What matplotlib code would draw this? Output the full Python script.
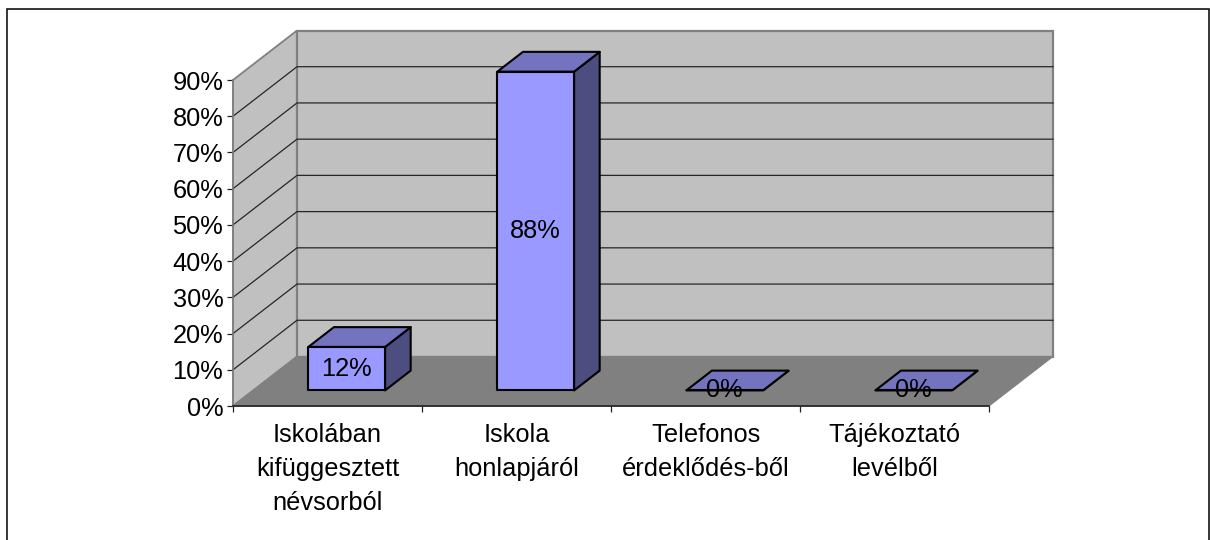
import matplotlib
matplotlib.use("Agg")
import matplotlib.pyplot as plt
from matplotlib.patches import Polygon, Rectangle
from matplotlib.transforms import Affine2D

categories = ["Iskolában\nkifüggesztett\nnévsorból", "Iskola\nhonlapjáról",
              "Telefonos\nérdeklődés-ből", "Tájékoztató\nlevélből"]
values = [12, 88, 0, 0]
value_labels = ["12%", "88%", "0%", "0%"]
y_ticks = [0, 10, 20, 30, 40, 50, 60, 70, 80, 90]
y_tick_labels = ["0%", "10%", "20%", "30%", "40%", "50%", "60%", "70%", "80%", "90%"]

W, H = 1210, 540
DX, DY = 64, 49.5
BAR_W = 0.406
BAR_SHIFT = -0.005
D0, D1 = 0.315, 0.715
FS = 18.3

plt.rcParams["font.family"] = ["Liberation Sans", "DejaVu Sans"]
fig = plt.figure(figsize=(W / 100, H / 100), dpi=100, facecolor="white")
fig.add_artist(Rectangle((6.5 / W, -0.05), 1202 / W, 1.05 - 8.5 / H, transform=fig.transFigure,
                         fill=False, ec="black", lw=1.1))
ax = fig.add_axes([233 / W, 1 - 406 / H, 756 / W, 326 / H])
ax.set_xlim(0, len(categories))
ax.set_ylim(0, max(y_ticks))
ax.patch.set_visible(False)
for s in ax.spines.values():
    s.set_visible(False)
ax.spines["left"].set_visible(True)
ax.spines["left"].set_color("#808080")
ax.spines["left"].set_linewidth(1.2)
ax.spines["left"].set_zorder(2)


def depth(d):
    return ax.transData + Affine2D().translate(DX * d, DY * d)


n = len(categories)
top = max(y_ticks)


def quad(points, **kw):
    verts = [depth(d).transform((x, y)) for x, y, d in points]
    ax.add_patch(Polygon(verts, closed=True, transform=None, clip_on=False, **kw))


quad([(0, 0, 0), (0, top, 0), (0, top, 1), (0, 0, 1)], fc="#C0C0C0", ec="#808080", lw=1.3, zorder=1)
quad([(0, 0, 1), (0, top, 1), (n, top, 1), (n, 0, 1)], fc="#C0C0C0", ec="#808080", lw=1.6, zorder=1)
quad([(0, 0, 0), (0, 0, 1), (n, 0, 1), (n, 0, 0)], fc="#808080", ec="#808080", lw=0.8, zorder=1.5)

for t in y_ticks[1:-1]:
    p0 = depth(0).transform((0, t))
    p1 = depth(1).transform((0, t))
    p2 = depth(1).transform((n, t))
    ax.plot([p0[0], p1[0], p2[0]], [p0[1], p1[1], p2[1]], transform=None, color="#262626",
            lw=0.9, clip_on=False, zorder=1.2)

ax.plot([0, n], [0, 0], color="#202020", lw=1.2, clip_on=False, zorder=3)

for i, v in enumerate(values):
    xc = i + 0.5 + BAR_SHIFT
    x0, x1 = xc - BAR_W / 2, xc + BAR_W / 2
    kw = dict(ec="black", lw=1.5, joinstyle="round")
    quad([(x1, 0, D0), (x1, v, D0), (x1, v, D1), (x1, 0, D1)], fc="#4D4D80", zorder=4, **kw)
    quad([(x0, v, D0), (x0, v, D1), (x1, v, D1), (x1, v, D0)], fc="#7373BF", zorder=4, **kw)
    quad([(x0, 0, D0), (x0, v, D0), (x1, v, D0), (x1, 0, D0)], fc="#9999FF", zorder=5, **kw)
    ax.text(xc, v / 2, value_labels[i], transform=depth(D0), ha="center", va="center",
            fontsize=FS, color="black", zorder=6, clip_on=False)

ax.set_yticks(y_ticks, y_tick_labels, fontsize=FS)
ax.set_xticks(range(n + 1), [""] * (n + 1))
ax.tick_params(axis="both", length=4, width=0.9, color="#202020", direction="out")
ax.tick_params(axis="y", pad=3)
for i, c in enumerate(categories):
    ax.annotate(c, xy=(i + 0.5, 0), xycoords=ax.get_xaxis_transform(), xytext=(0, -12),
                textcoords="offset points", ha="center", va="top", fontsize=FS,
                linespacing=1.53, color="black", annotation_clip=False)

fig.savefig("out.png", dpi=100, facecolor="white")
